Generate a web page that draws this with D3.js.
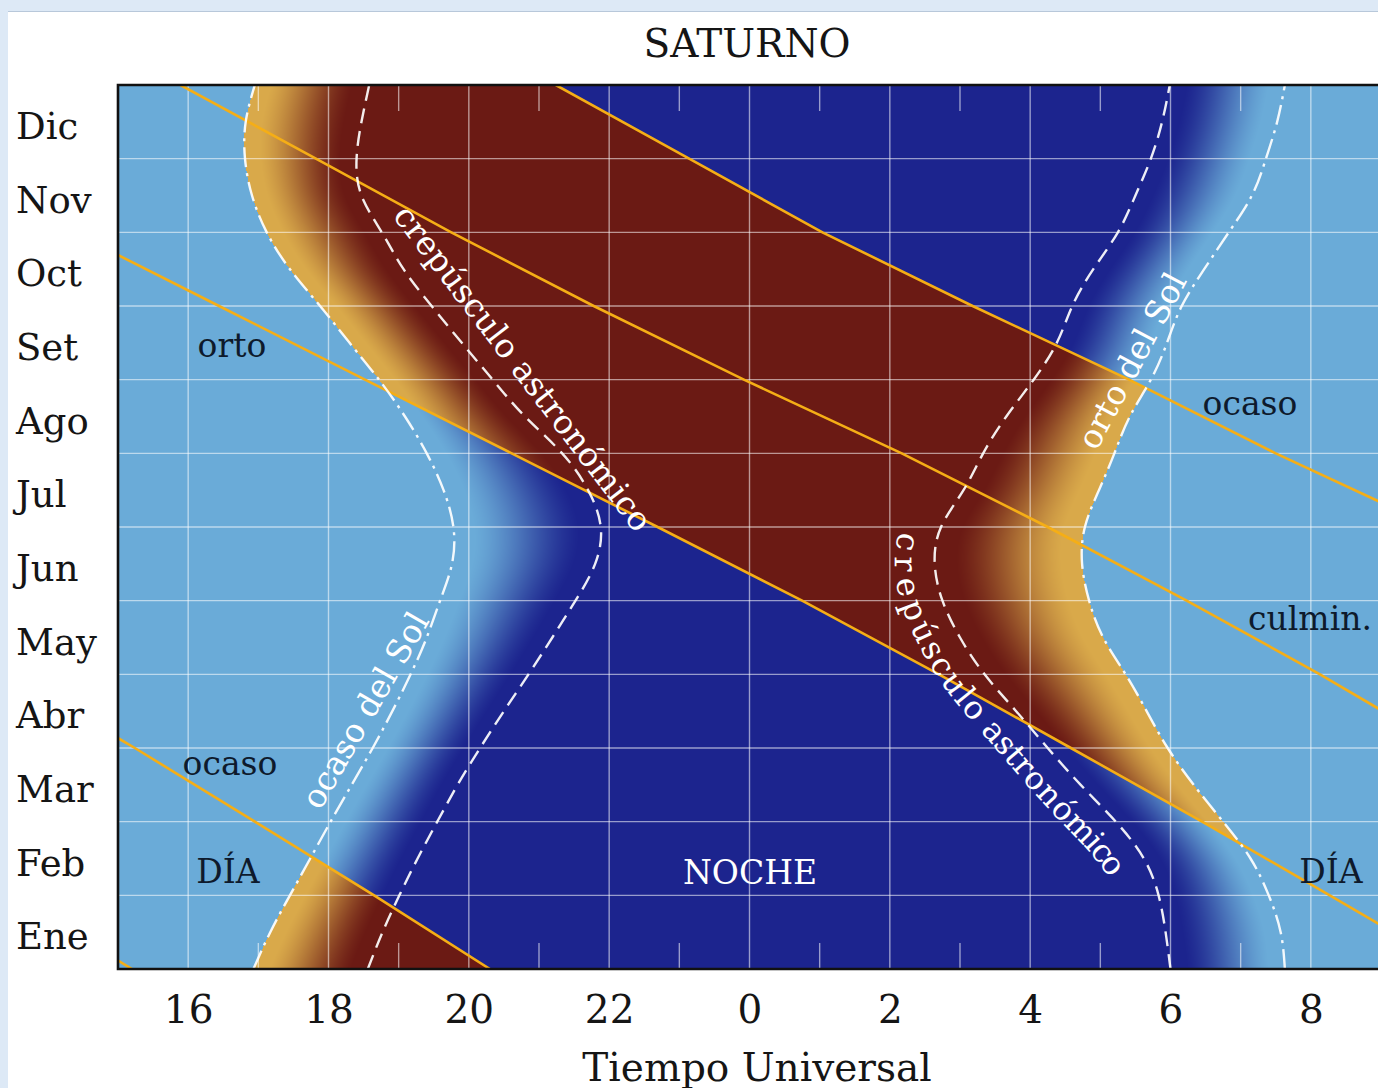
<!DOCTYPE html>
<html>
<head>
<meta charset="utf-8">
<script src="https://cdn.jsdelivr.net/npm/d3@7"></script>
<style>
  html, body { margin: 0; padding: 0; background: #dde9f6; }
  svg { display: block; font-family: "DejaVu Serif", serif; }
</style>
</head>
<body>
<svg id="chart" width="1378" height="1088"></svg>
<script>
// ---- data ----
const months = ["Ene", "Feb", "Mar", "Abr", "May", "Jun", "Jul", "Ago", "Set", "Oct", "Nov", "Dic"];
const hourTicks = [16, 18, 20, 22, 24, 26, 28, 30, 32];
const minorTicks = [15, 17, 19, 21, 23, 25, 27, 29, 31];

// sun curves, sampled every half month (0 = 1 Ene, 12 = 31 Dic), hours UT (after midnight + 24)
const sunMonths = [0, 0.5, 1, 1.5, 2, 2.5, 3, 3.5, 4, 4.5, 5, 5.5, 6, 6.5, 7, 7.5, 8, 8.5, 9, 9.5, 10, 10.5, 11, 11.5, 12];
const sunsetH = [16.93, 17.17, 17.45, 17.74, 18.03, 18.33, 18.63, 18.91, 19.17, 19.40, 19.59, 19.76, 19.78,
                 19.64, 19.40, 19.09, 18.72, 18.30, 17.88, 17.45, 17.12, 16.91, 16.81, 16.82, 16.95];
const duskH = [18.56, 18.77, 19.01, 19.27, 19.55, 19.84, 20.16, 20.50, 20.85, 21.19, 21.52, 21.80, 21.88,
               21.70, 21.33, 20.80, 20.34, 19.90, 19.47, 19.07, 18.76, 18.47, 18.40, 18.47, 18.58];
const dawnH = [30.00, 29.93, 29.83, 29.62, 29.22, 28.72, 28.25, 27.80, 27.35, 27.00, 26.75, 26.64, 26.73,
               27.05, 27.33, 27.66, 28.05, 28.38, 28.60, 28.90, 29.25, 29.50, 29.72, 29.88, 29.99];
const sunriseH = [31.63, 31.57, 31.40, 31.14, 30.75, 30.33, 29.96, 29.66, 29.36, 29.04, 28.84, 28.74, 28.78,
                  28.98, 29.20, 29.42, 29.72, 29.95, 30.16, 30.48, 30.83, 31.16, 31.36, 31.52, 31.63];

// Saturn, at the start of each month
const satMonths = [0, 1, 2, 3, 4, 5, 6, 7, 8, 9, 10, 11, 12];
const satRise = [34.07, 32.27, 30.45, 28.58, 26.70, 24.75, 22.69, 20.61, 18.52, 16.44, 14.36, 12.28, 10.20];
const satCulm = [39.20, 37.45, 35.70, 33.92, 32.13, 30.23, 28.25, 26.17, 23.92, 21.78, 19.75, 17.82, 15.89];
const satSet = [44.30, 42.65, 40.95, 39.24, 37.45, 35.62, 33.75, 31.50, 29.41, 27.18, 25.04, 23.14, 21.24];

// ---- setup ----
const W = 1378, H = 1088;
const pLeft = 118, pRight = 1381, pTop = 85, pBottom = 969;
const svg = d3.select("#chart");
const x = d3.scaleLinear().domain([15, 33]).range([pLeft, pRight]);
const y = d3.scaleLinear().domain([0, 12]).range([pBottom, pTop]);

const lightBlue = d3.rgb("#6aabd8"), darkBlue = d3.rgb("#1c248e");
const brown = d3.rgb("#6b1a14"), gold = d3.rgb("#d9a94a");

svg.append("rect").attr("x", 8).attr("y", 12).attr("width", W).attr("height", H).attr("fill", "#fff");
svg.append("line").attr("x1", 8).attr("x2", W).attr("y1", 11.5).attr("y2", 11.5)
  .attr("stroke", "#b8c8da").attr("stroke-width", 1);

svg.append("clipPath").attr("id", "plot").append("rect")
  .attr("x", pLeft).attr("y", pTop).attr("width", pRight - pLeft).attr("height", pBottom - pTop);

const gRaster = svg.append("g");
const gGrid = svg.append("g").attr("clip-path", "url(#plot)");
const gSat = svg.append("g").attr("clip-path", "url(#plot)");
const gSun = svg.append("g").attr("clip-path", "url(#plot)");
const gAxis = svg.append("g");
const gText = svg.append("g");

// ---- sun curves ----
const sunLine = d3.line().x(d => x(d[0])).y(d => y(d[1])).curve(d3.curveNatural);
const pts = hs => hs.map((h, i) => [h, sunMonths[i]]);

const sunCurves = [
  { key: "sunset", hours: sunsetH, dash: "20,6,3,6" },
  { key: "dusk", hours: duskH, dash: "15,8" },
  { key: "dawn", hours: dawnH, dash: "15,8" },
  { key: "sunrise", hours: sunriseH, dash: "20,6,3,6" }
];
const paths = {};
sunCurves.forEach(c => {
  paths[c.key] = gSun.append("path")
    .attr("d", sunLine(pts(c.hours)))
    .attr("fill", "none")
    .attr("stroke", "#fff")
    .attr("stroke-opacity", 0.92)
    .attr("stroke-width", 2.4)
    .attr("stroke-dasharray", c.dash)
    .node();
});

// x position of a path at each pixel row
function rowLookup(node) {
  const len = node.getTotalLength();
  const out = new Float64Array(H).fill(NaN);
  let p0 = node.getPointAtLength(0);
  for (let s = 0.5; s <= len + 0.5; s += 0.5) {
    const p1 = node.getPointAtLength(Math.min(s, len));
    const lo = Math.min(p0.y, p1.y), hi = Math.max(p0.y, p1.y);
    for (let r = Math.ceil(lo - 0.5); r + 0.5 <= hi; r++) {
      if (r < 0 || r >= H) continue;
      const t = p1.y === p0.y ? 0 : (r + 0.5 - p0.y) / (p1.y - p0.y);
      out[r] = p0.x + t * (p1.x - p0.x);
    }
    p0 = p1;
  }
  return out;
}
const ssPx = rowLookup(paths.sunset), tePx = rowLookup(paths.dusk);
const tdPx = rowLookup(paths.dawn), srPx = rowLookup(paths.sunrise);

const riseAt = d3.scaleLinear().domain(satMonths).range(satRise);
const setAt = d3.scaleLinear().domain(satMonths).range(satSet);

// share of daylight left in the twilight: 0 at full night, 1 at the horizon
function ramp(f) {
  const u = Math.max(0, Math.min(1, (f - 0.15) / (0.86 - 0.15)));
  return 0.5 * u + 0.5 * u * u * (3 - 2 * u);
}

// ---- raster of day / twilight / night and Saturn above horizon ----
const cw = W - pLeft, ch = pBottom - pTop;
const canvas = document.createElement("canvas");
canvas.width = cw; canvas.height = ch;
const ctx = canvas.getContext("2d");
const img = ctx.createImageData(cw, ch);
for (let j = 0; j < ch; j++) {
  const Y = pTop + j;
  const ss = ssPx[Y], te = tePx[Y], td = tdPx[Y], sr = srPx[Y];
  const m = y.invert(Y + 0.5);
  const wins = [-24, 0, 24].map(k => [x(riseAt(m) + k), x(setAt(m) + k)]);
  for (let i = 0; i < cw; i++) {
    const X = pLeft + i + 0.5;
    let t;
    if (X < ss || X > sr) t = -1;
    else if (X < te) t = ramp((te - X) / (te - ss));
    else if (X > td) t = ramp((X - td) / (sr - td));
    else t = 0;
    let a, b;
    if (t < 0) { a = lightBlue; b = lightBlue; t = 1; }
    else {
      const up = wins.some(w => X >= w[0] && X <= w[1]);
      if (up) { a = brown; b = gold; } else { a = darkBlue; b = lightBlue; }
    }
    const k = (j * cw + i) * 4;
    img.data[k] = a.r + (b.r - a.r) * t;
    img.data[k + 1] = a.g + (b.g - a.g) * t;
    img.data[k + 2] = a.b + (b.b - a.b) * t;
    img.data[k + 3] = 255;
  }
}
ctx.putImageData(img, 0, 0);
gRaster.append("image")
  .attr("x", pLeft).attr("y", pTop).attr("width", cw).attr("height", ch)
  .attr("href", canvas.toDataURL());

// ---- grid ----
gGrid.selectAll("line.v").data(hourTicks).join("line")
  .attr("x1", d => x(d)).attr("x2", d => x(d)).attr("y1", pTop).attr("y2", pBottom)
  .attr("stroke", "#fff").attr("stroke-opacity", 0.55).attr("stroke-width", 1.4);
gGrid.selectAll("line.h").data(d3.range(1, 12)).join("line")
  .attr("x1", pLeft).attr("x2", pRight).attr("y1", d => y(d)).attr("y2", d => y(d))
  .attr("stroke", "#fff").attr("stroke-opacity", 0.55).attr("stroke-width", 1.4);
[pTop, pBottom - 26].forEach(y1 => {
  gGrid.append("g").selectAll("line").data(minorTicks).join("line")
    .attr("x1", d => x(d)).attr("x2", d => x(d)).attr("y1", y1).attr("y2", y1 + 26)
    .attr("stroke", "#fff").attr("stroke-opacity", 0.55).attr("stroke-width", 1.4);
});

// ---- Saturn lines (also shifted by a day) ----
const satLine = d3.line().x(d => x(d[0])).y(d => y(d[1]));
[satRise, satCulm, satSet].forEach(hs => {
  [-24, 0, 24].forEach(k => {
    gSat.append("path")
      .attr("d", satLine(hs.map((h, i) => [h + k, satMonths[i]])))
      .attr("fill", "none").attr("stroke", "#f5ae16").attr("stroke-width", 2.6);
  });
});

// ---- frame and axes ----
gAxis.append("path")
  .attr("d", `M${pRight},${pTop}H${pLeft}V${pBottom}H${pRight}`)
  .attr("fill", "none").attr("stroke", "#111").attr("stroke-width", 2.6);

const xAxis = d3.axisBottom(x).tickValues(hourTicks).tickSize(0).tickPadding(26)
  .tickFormat(d => d % 24);
gAxis.append("g").attr("transform", `translate(0,${pBottom})`).call(xAxis)
  .call(g => g.select(".domain").remove())
  .selectAll("text").attr("font-size", 39).attr("fill", "#151515")
  .attr("font-family", "DejaVu Serif");

gAxis.selectAll("text.month").data(months).join("text")
  .attr("x", 16).attr("y", (d, i) => y(i + 0.5) + 17)
  .attr("font-size", 37).attr("fill", "#151515").text(d => d);

gText.append("text").attr("x", 747).attr("y", 57).attr("text-anchor", "middle")
  .attr("font-size", 39).attr("fill", "#151515").text("SATURNO");
gText.append("text").attr("x", 757).attr("y", 1081).attr("text-anchor", "middle")
  .attr("font-size", 39).attr("fill", "#151515").text("Tiempo Universal");

// ---- in-plot labels ----
const darkLabels = [
  { t: "orto", x: 232, y: 357 }, { t: "ocaso", x: 230, y: 775 }, { t: "DÍA", x: 228, y: 883 },
  { t: "ocaso", x: 1250, y: 415 }, { t: "culmin.", x: 1310, y: 630 }, { t: "DÍA", x: 1331, y: 883 }
];
gText.selectAll("text.lab").data(darkLabels).join("text")
  .attr("x", d => d.x).attr("y", d => d.y).attr("text-anchor", "middle")
  .attr("font-size", 33).attr("fill", "#0e1a2c").text(d => d.t);
gText.append("text").attr("x", 750).attr("y", 884).attr("text-anchor", "middle")
  .attr("font-size", 33).attr("fill", "#fff").text("NOCHE");

const whiteLabels = [
  { t: "crepúsculo astronómico", x: 514, y: 375, a: 52.5 },
  { t: "ocaso del Sol", x: 375, y: 716, a: -60 },
  { t: "orto del Sol", x: 1142, y: 366, a: -62 }
];
gText.selectAll("text.wl").data(whiteLabels).join("text")
  .attr("transform", d => `translate(${d.x},${d.y}) rotate(${d.a})`)
  .attr("text-anchor", "middle").attr("font-size", 33).attr("fill", "#fff").text(d => d.t);

// right twilight label follows the dawn curve
const dawnDown = pts(dawnH).filter(d => d[1] <= 6).reverse();
svg.append("defs").append("path").attr("id", "dawnText").attr("d", sunLine(dawnDown));
gText.append("text").attr("font-size", 32).attr("fill", "#fff").attr("dy", 40)
  .append("textPath").attr("href", "#dawnText").attr("startOffset", 12)
  .text("crepúsculo astronómico");
</script>
</body>
</html>
